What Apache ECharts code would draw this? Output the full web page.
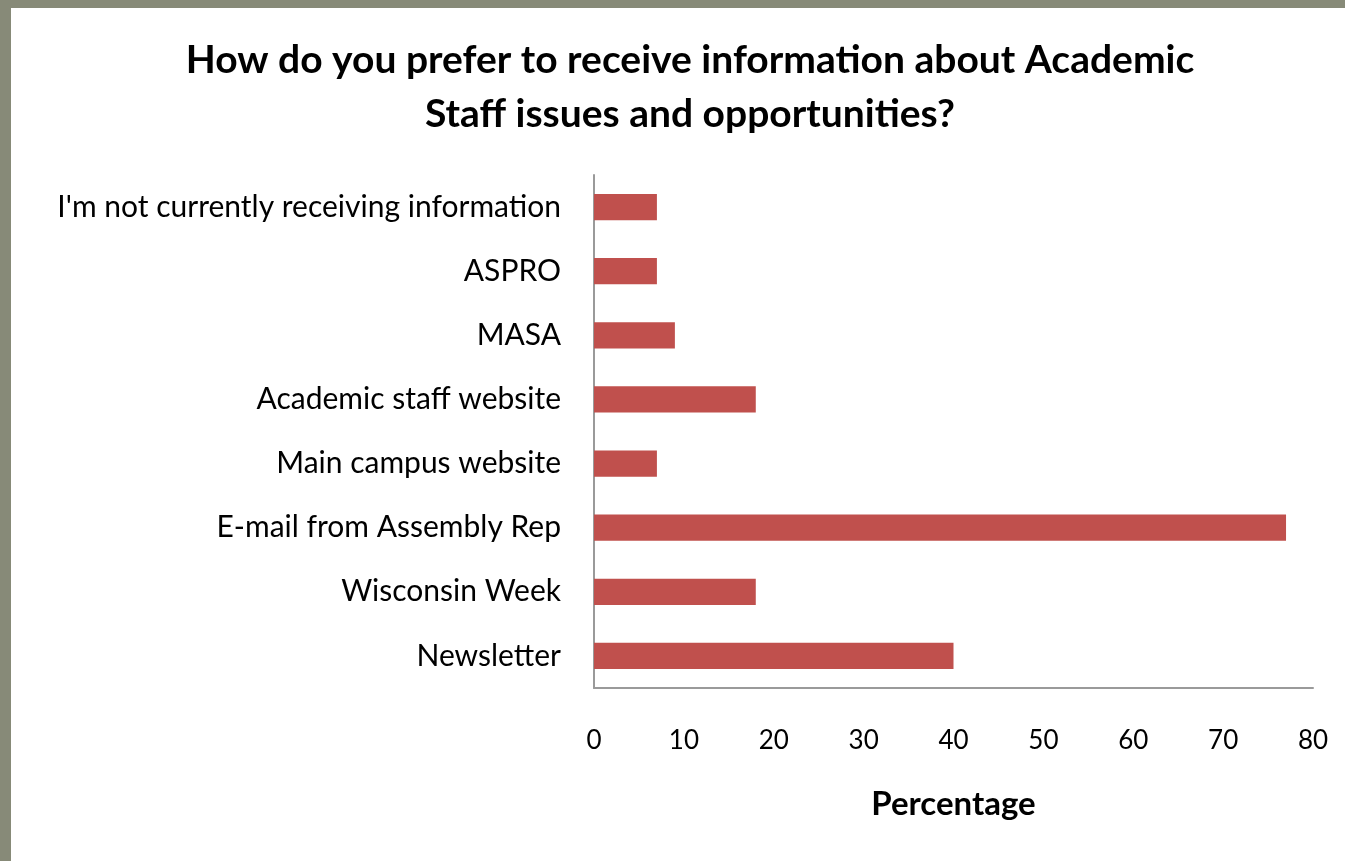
<!DOCTYPE html>
<html>
<head>
<meta charset="utf-8">
<script src="https://cdn.jsdelivr.net/npm/echarts@6/dist/echarts.min.js"></script>
<style>
  html, body { margin: 0; padding: 0; width: 1345px; height: 861px; background: #878a78; overflow: hidden; }
  #chart { position: absolute; left: 11px; top: 8px; width: 1334px; height: 853px; background: #fff; }
</style>
</head>
<body>
<div id="chart"></div>
<script>
// categories, bottom to top as drawn
const categories = [
  'Newsletter',
  'Wisconsin Week',
  'E-mail from Assembly Rep',
  'Main campus website',
  'Academic staff website',
  'MASA',
  'ASPRO',
  "I'm not currently receiving information"
];
const percentages = [40, 18, 77, 7, 18, 9, 7, 7];
const xTicks = [0, 10, 20, 30, 40, 50, 60, 70, 80];

const myChart = echarts.init(document.getElementById('chart'));
myChart.setOption({
  backgroundColor: '#fff',
  animation: false,
  title: {
    text: 'How do you prefer to receive information about Academic\nStaff issues and opportunities?',
    left: 674,
    top: 20,
    textAlign: 'center',
    textStyle: {
      fontFamily: 'Lato',
      fontWeight: 'bold',
      fontSize: 39,
      lineHeight: 54,
      color: '#000'
    }
  },
  grid: {
    left: 583,
    right: 32,
    top: 167,
    bottom: 173
  },
  xAxis: {
    type: 'value',
    min: xTicks[0],
    max: xTicks[xTicks.length - 1],
    interval: 10,
    name: 'Percentage',
    nameLocation: 'middle',
    nameGap: 100,
    nameTextStyle: {
      fontFamily: 'Lato',
      fontWeight: 'bold',
      fontSize: 33,
      color: '#000'
    },
    axisLine: { show: true, lineStyle: { color: '#9a9a9a', width: 2 } },
    axisTick: { show: false },
    splitLine: { show: false },
    axisLabel: {
      margin: 40,
      fontFamily: 'Lato',
      fontSize: 26,
      color: '#000'
    }
  },
  yAxis: {
    type: 'category',
    data: categories,
    axisLine: { show: true, lineStyle: { color: '#9a9a9a', width: 2 } },
    axisTick: { show: false },
    axisLabel: {
      margin: 33,
      fontFamily: 'Lato',
      fontSize: 30,
      color: '#000'
    }
  },
  series: [{
    type: 'bar',
    data: percentages,
    barWidth: '41%',
    itemStyle: { color: '#c0504d' }
  }]
});
</script>
</body>
</html>
